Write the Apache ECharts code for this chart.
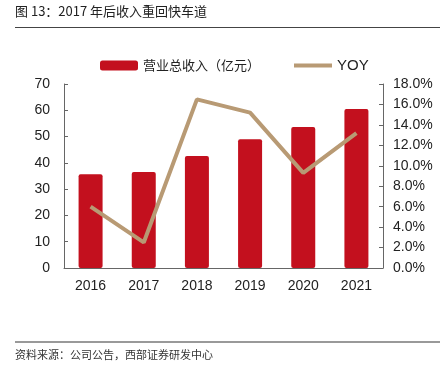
<!DOCTYPE html>
<html><head><meta charset="utf-8">
<script src="https://cdn.jsdelivr.net/npm/echarts@6/dist/echarts.min.js"></script>
<style>html,body{margin:0;padding:0;background:#fff}#c{width:442px;height:381px}</style>
</head><body><div id="c"></div>
<script>
var categories = ['2016','2017','2018','2019','2020','2021'];
var revenue = [35.7, 36.5, 42.6, 49.0, 53.6, 60.5];
var yoy = [6.0, 2.5, 16.5, 15.2, 9.3, 13.2];
var leftTicks = [0,10,20,30,40,50,60,70];

var chart = echarts.init(document.getElementById('c'));
chart.setOption({
  animation:false,
  textStyle:{fontFamily:'Liberation Sans, Arial, sans-serif'},
  graphic:[
    {type:'text',left:15,top:5,style:{text:'图 13：2017 年后收入重回快车道',font:'13px "Noto Sans CJK SC", sans-serif',fill:'#222'}},
    {type:'rect',shape:{x:15,y:27,width:425,height:1},style:{fill:'#444'}},
    {type:'rect',shape:{x:15,y:341,width:425,height:2},style:{fill:'#999'}},
    {type:'text',left:15,top:349,style:{text:'资料来源：公司公告，西部证券研发中心',font:'11px "Noto Sans CJK SC", sans-serif',fill:'#333'}}
  ],
  legend:{
    top:53,left:95,itemGap:34,itemWidth:38,itemHeight:10,
    data:[{name:'营业总收入（亿元）',icon:'roundRect'},
          {name:'YOY',icon:'path://M0,0 L38,0 L38,4 L0,4 Z',textStyle:{fontSize:15,fontFamily:'Liberation Sans, Arial, sans-serif'}}],
    textStyle:{fontSize:13,color:'#222',fontFamily:'"Noto Sans CJK SC", sans-serif'}
  },
  grid:{left:64,right:59,top:84,bottom:113,containLabel:false},
  xAxis:{type:'category',data:categories,
    axisLine:{lineStyle:{color:'#666'}},
    axisTick:{inside:true,length:4,lineStyle:{color:'#666'}},
    axisLabel:{fontSize:14,color:'#222',margin:11}},
  yAxis:[
    {type:'value',min:0,max:70,interval:10,
      axisLine:{show:true,lineStyle:{color:'#666'}},
      axisTick:{show:true,inside:true,length:4,lineStyle:{color:'#666'}},
      splitLine:{show:false},
      axisLabel:{fontSize:14,color:'#222',margin:14}},
    {type:'value',min:0,max:18,interval:2,
      axisLine:{show:true,lineStyle:{color:'#666'}},
      axisTick:{show:true,inside:true,length:4,lineStyle:{color:'#666'}},
      splitLine:{show:false},
      axisLabel:{fontSize:14,color:'#222',margin:10,formatter:function(v){return v.toFixed(1)+'%';}}}
  ],
  series:[
    {name:'营业总收入（亿元）',type:'bar',data:revenue,barWidth:24,
      itemStyle:{color:'#C3101E',borderRadius:2}},
    {name:'YOY',type:'line',yAxisIndex:1,data:yoy,symbol:'none',
      lineStyle:{color:'#B89A74',width:4},itemStyle:{color:'#B89A74'}}
  ]
});
</script></body></html>
